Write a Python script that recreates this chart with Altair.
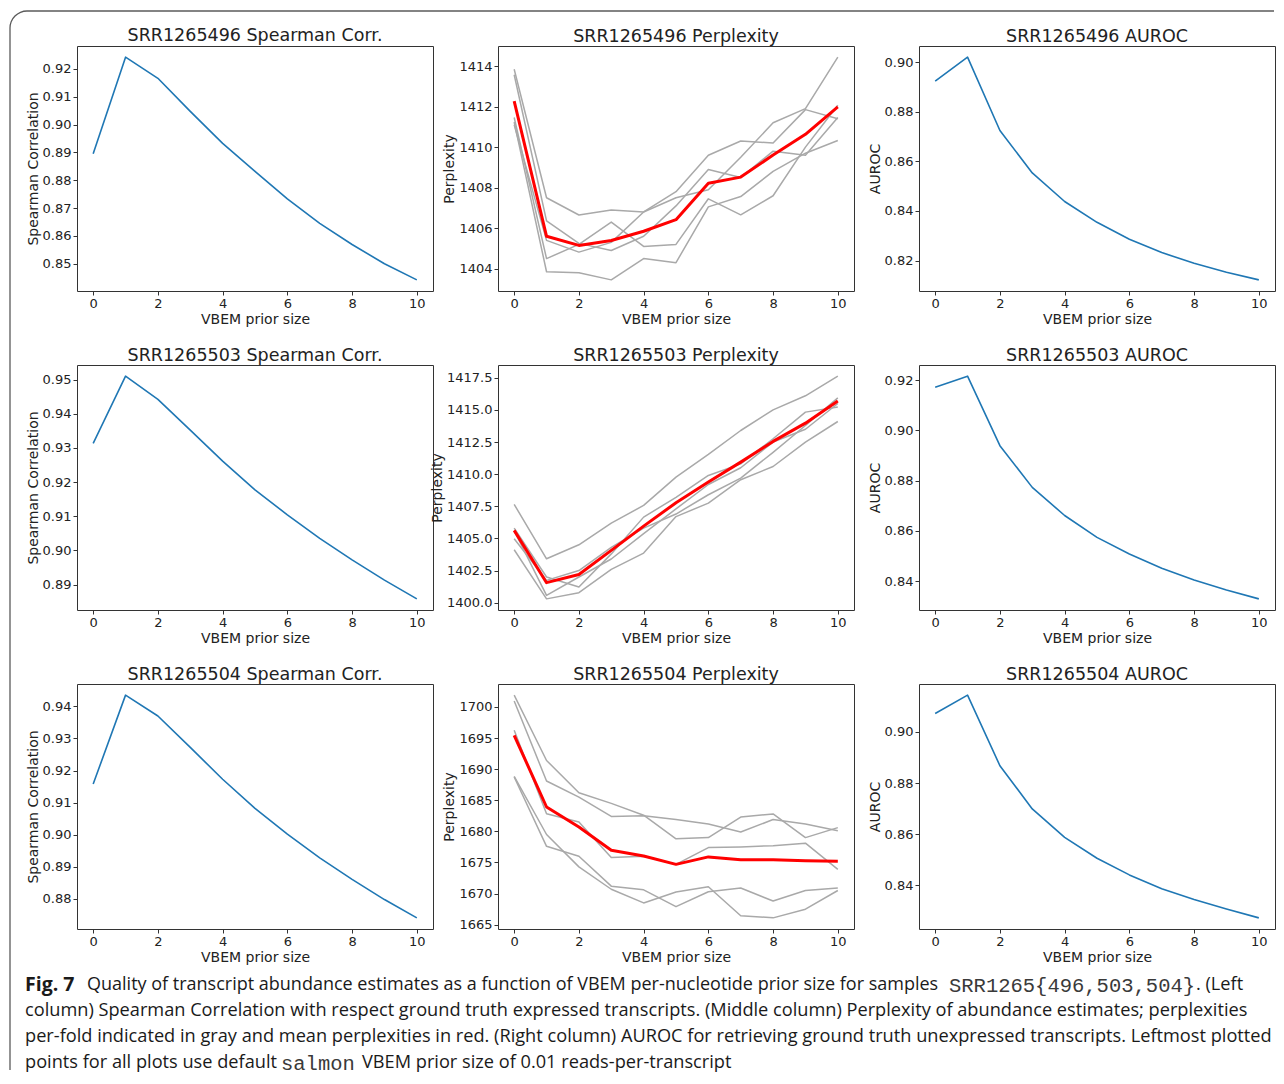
import altair as alt
import pandas as pd

# ---------------- data ----------------
prior_size = [0, 1, 2, 3, 4, 5, 6, 7, 8, 9, 10]
x_ticks = [0, 2, 4, 6, 8, 10]
samples = ["SRR1265496", "SRR1265503", "SRR1265504"]

spearman_496 = [0.8895, 0.9242, 0.9166, 0.9047, 0.8932, 0.8832, 0.8733, 0.8645, 0.8569, 0.8500, 0.8442]
spearman_503 = [0.9313, 0.9510, 0.9442, 0.9352, 0.9261, 0.9177, 0.9104, 0.9035, 0.8972, 0.8913, 0.8858]
spearman_504 = [0.9158, 0.9435, 0.9370, 0.9272, 0.9173, 0.9082, 0.9002, 0.8928, 0.8861, 0.8798, 0.8741]

auroc_496 = [0.8923, 0.9020, 0.8724, 0.8553, 0.8438, 0.8354, 0.8286, 0.8232, 0.8189, 0.8153, 0.8122]
auroc_503 = [0.9172, 0.9216, 0.8939, 0.8773, 0.8661, 0.8574, 0.8508, 0.8451, 0.8404, 0.8364, 0.8329]
auroc_504 = [0.9072, 0.9144, 0.8868, 0.8699, 0.8588, 0.8506, 0.8441, 0.8387, 0.8345, 0.8308, 0.8273]

perp_496_mean = [1412.27, 1405.60, 1405.15, 1405.39, 1405.85, 1406.42, 1408.22, 1408.52, 1409.61, 1410.63, 1411.99]
perp_496_fold1 = [1413.84, 1407.50, 1406.65, 1406.90, 1406.80, 1407.80, 1409.60, 1410.30, 1410.20, 1411.85, 1411.40]
perp_496_fold2 = [1413.57, 1406.36, 1405.25, 1404.90, 1405.60, 1407.10, 1408.90, 1408.50, 1409.80, 1409.60, 1411.46]
perp_496_fold3 = [1411.46, 1404.50, 1405.20, 1406.30, 1405.10, 1405.20, 1407.45, 1406.66, 1407.60, 1410.00, 1412.07]
perp_496_fold4 = [1411.24, 1403.85, 1403.80, 1403.45, 1404.50, 1404.30, 1407.05, 1407.56, 1408.80, 1409.70, 1410.33]
perp_496_fold5 = [1411.10, 1405.40, 1404.82, 1405.30, 1406.80, 1407.50, 1407.90, 1409.50, 1411.20, 1411.90, 1414.44]

perp_503_mean = [1405.63, 1401.56, 1402.20, 1404.07, 1405.96, 1407.78, 1409.39, 1410.94, 1412.55, 1413.97, 1415.69]
perp_503_fold1 = [1407.65, 1403.42, 1404.51, 1406.20, 1407.57, 1409.77, 1411.54, 1413.40, 1415.00, 1416.10, 1417.63]
perp_503_fold2 = [1405.80, 1402.00, 1401.22, 1403.80, 1406.66, 1408.20, 1409.90, 1410.80, 1412.76, 1414.83, 1415.22]
perp_503_fold3 = [1404.98, 1401.74, 1402.50, 1404.30, 1405.80, 1406.90, 1408.40, 1409.70, 1411.70, 1413.79, 1415.94]
perp_503_fold4 = [1405.60, 1400.57, 1402.00, 1403.40, 1405.37, 1407.30, 1409.20, 1410.50, 1412.50, 1413.50, 1415.50]
perp_503_fold5 = [1404.12, 1400.30, 1400.78, 1402.60, 1403.86, 1406.70, 1407.75, 1409.57, 1410.60, 1412.50, 1414.10]

perp_504_mean = [1695.44, 1683.92, 1680.70, 1676.96, 1676.04, 1674.70, 1675.90, 1675.45, 1675.45, 1675.30, 1675.19]
perp_504_fold1 = [1701.90, 1691.40, 1686.20, 1684.50, 1682.60, 1678.80, 1679.00, 1682.30, 1682.80, 1679.00, 1680.60]
perp_504_fold2 = [1700.96, 1688.10, 1685.50, 1682.40, 1682.50, 1681.90, 1681.20, 1679.90, 1681.90, 1681.20, 1680.10]
perp_504_fold3 = [1696.25, 1682.85, 1681.50, 1675.80, 1676.00, 1674.70, 1677.40, 1677.50, 1677.70, 1678.10, 1673.90]
perp_504_fold4 = [1688.85, 1679.50, 1674.30, 1670.70, 1668.50, 1670.25, 1671.10, 1666.45, 1666.10, 1667.50, 1670.50]
perp_504_fold5 = [1688.75, 1677.60, 1676.00, 1671.20, 1670.60, 1667.90, 1670.30, 1670.90, 1668.80, 1670.50, 1670.90]

# y tick labels of each panel
spearman_ticks_496 = [0.84, 0.85, 0.86, 0.87, 0.88, 0.89, 0.90, 0.91, 0.92]
spearman_ticks_503 = [0.89, 0.90, 0.91, 0.92, 0.93, 0.94, 0.95]
spearman_ticks_504 = [0.88, 0.89, 0.90, 0.91, 0.92, 0.93, 0.94]
perp_ticks_496 = [1404, 1406, 1408, 1410, 1412, 1414]
perp_ticks_503 = [1400.0, 1402.5, 1405.0, 1407.5, 1410.0, 1412.5, 1415.0, 1417.5]
perp_ticks_504 = [1665, 1670, 1675, 1680, 1685, 1690, 1695, 1700]
auroc_ticks_496 = [0.82, 0.84, 0.86, 0.88, 0.90]
auroc_ticks_503 = [0.84, 0.86, 0.88, 0.90, 0.92]
auroc_ticks_504 = [0.84, 0.86, 0.88, 0.90]

caption_line1 = ["Fig. 7",
                 "Quality of transcript abundance estimates as a function of VBEM per-nucleotide prior size for samples",
                 "SRR1265{496,503,504}",
                 ". (Left"]
caption_line2 = "column) Spearman Correlation with respect ground truth expressed transcripts. (Middle column) Perplexity of abundance estimates; perplexities"
caption_line3 = "per-fold indicated in gray and mean perplexities in red. (Right column) AUROC for retrieving ground truth unexpressed transcripts. Leftmost plotted"
caption_line4 = ["points for all plots use default", "salmon", "VBEM prior size of 0.01 reads-per-transcript"]

# ---------------- styling ----------------
W, H = 356, 245
BLUE = "#1f77b4"
GRAY = "#a9a9a9"
RED = "#ff0000"
TXT = "#222222"
FONT = "DejaVu Sans"
TITLE_SIZE = 17.5
FRAME = "#5a5a5a"


def padded(vals):
    lo, hi = min(vals), max(vals)
    m = 0.05 * (hi - lo)
    return [lo - m, hi + m]


def x_enc():
    return alt.X("x:Q",
                 scale=alt.Scale(domain=[-0.5, 10.5], nice=False, zero=False),
                 axis=alt.Axis(values=x_ticks, format="d", title="VBEM prior size"))


def y_enc(dom, ticks, fmt, title):
    return alt.Y("y:Q",
                 scale=alt.Scale(domain=dom, nice=False, zero=False),
                 axis=alt.Axis(values=ticks, format=fmt, title=title))


def metric_line(ytitle, values, ticks):
    df = pd.DataFrame({"x": prior_size, "y": values})
    return alt.Chart(df).mark_line(
        color=BLUE, strokeWidth=1.6, strokeJoin="round"
    ).encode(x=x_enc(), y=y_enc(padded(values), ticks, ".2f", ytitle))


def metric_panel(title, ytitle, values, ticks):
    return alt.layer(metric_line(ytitle, values, ticks), title=title).properties(width=W, height=H)


def perp_panel(title, folds, mean, ticks, fmt):
    rows = []
    for i, f in enumerate(folds):
        for xv, yv in zip(prior_size, f):
            rows.append({"x": xv, "y": yv, "fold": i})
    dff = pd.DataFrame(rows)
    dfm = pd.DataFrame({"x": prior_size, "y": mean})
    allv = [v for f in folds for v in f] + list(mean)
    dom = padded(allv)
    gray = alt.Chart(dff).mark_line(color=GRAY, strokeWidth=1.5, strokeJoin="round").encode(
        x=x_enc(), y=y_enc(dom, ticks, fmt, "Perplexity"), detail="fold:N")
    red = alt.Chart(dfm).mark_line(color=RED, strokeWidth=3, strokeJoin="round").encode(
        x=x_enc(), y=y_enc(dom, ticks, fmt, "Perplexity"))
    return alt.layer(gray, red, title=title).properties(width=W, height=H)


# ---------------- caption and figure frame (drawn from the first panel, outside its plot area) ----------------
dummy = pd.DataFrame({"k": [0]})
REG = "Open Sans"
MONO = "Liberation Mono"
CFS = 18.2
MFS = 20.5


def seg(text, x, y, font=REG, size=CFS, weight="normal", color="#1a1a1a", align="left", baseline="middle"):
    return alt.Chart(dummy).mark_text(
        align=align, baseline=baseline, font=font, fontSize=size, fontWeight=weight, color=color
    ).encode(x=alt.value(x), y=alt.value(y), text=alt.value(text))


L1, L2, L3, L4 = 939, 965, 991, 1017
first_panel = alt.layer(
    metric_line("Spearman Correlation", spearman_496, spearman_ticks_496),
    # panel title (as a text mark so the frame below does not move it)
    seg(f"{samples[0]} Spearman Corr.", W / 2, -1, font=FONT, size=TITLE_SIZE, color=TXT,
        align="center", baseline="bottom"),
    # figure frame: top edge, left edge, rounded top-left corner
    alt.Chart(dummy).mark_rule(color=FRAME, strokeWidth=1.3).encode(
        x=alt.value(-50), x2=alt.value(1197), y=alt.value(-35)),
    alt.Chart(dummy).mark_rule(color=FRAME, strokeWidth=1.3).encode(
        x=alt.value(-67), y=alt.value(-18), y2=alt.value(1024)),
    alt.Chart(dummy).mark_arc(color=FRAME).encode(
        x=alt.value(-50), y=alt.value(-18), radius=alt.value(17.65), radius2=alt.value(16.35),
        theta=alt.value(4.7124), theta2=alt.value(6.2832)),
    # caption
    seg(caption_line1[0], -52, L1, size=19.5, weight="bold"),
    seg(caption_line1[1], 10, L1, size=18.0),
    seg(caption_line1[2], 872, L1 + 1, font=MONO, size=MFS, color="#3a3a3a"),
    seg(caption_line1[3], 1119, L1),
    seg(caption_line2, -52, L2),
    seg(caption_line3, -52, L3),
    seg(caption_line4[0], -52, L4),
    seg(caption_line4[1], 204, L4 + 1, font=MONO, size=MFS, color="#3a3a3a"),
    seg(caption_line4[2], 285, L4),
).properties(width=W, height=H)

panels = [
    first_panel,
    perp_panel(f"{samples[0]} Perplexity",
               [perp_496_fold1, perp_496_fold2, perp_496_fold3, perp_496_fold4, perp_496_fold5],
               perp_496_mean, perp_ticks_496, "d"),
    metric_panel(f"{samples[0]} AUROC", "AUROC", auroc_496, auroc_ticks_496),
    metric_panel(f"{samples[1]} Spearman Corr.", "Spearman Correlation", spearman_503, spearman_ticks_503),
    perp_panel(f"{samples[1]} Perplexity",
               [perp_503_fold1, perp_503_fold2, perp_503_fold3, perp_503_fold4, perp_503_fold5],
               perp_503_mean, perp_ticks_503, ".1f"),
    metric_panel(f"{samples[1]} AUROC", "AUROC", auroc_503, auroc_ticks_503),
    metric_panel(f"{samples[2]} Spearman Corr.", "Spearman Correlation", spearman_504, spearman_ticks_504),
    perp_panel(f"{samples[2]} Perplexity",
               [perp_504_fold1, perp_504_fold2, perp_504_fold3, perp_504_fold4, perp_504_fold5],
               perp_504_mean, perp_ticks_504, "d"),
    metric_panel(f"{samples[2]} AUROC", "AUROC", auroc_504, auroc_ticks_504),
]

chart = alt.concat(*panels, columns=3, spacing={"row": 74, "column": 65}, bounds="flush").properties(
    padding={"left": 0, "top": 1, "right": 0, "bottom": 0}
).configure_view(
    stroke="#333333", strokeWidth=1
).configure_axis(
    grid=False, domain=False, tickSize=4, tickColor="#333333", tickWidth=1,
    labelFont=FONT, labelFontSize=13, labelColor=TXT, labelPadding=2,
    titleFont=FONT, titleFontSize=14, titleFontWeight="normal", titleColor=TXT, titlePadding=2,
).configure_title(
    font=FONT, fontSize=TITLE_SIZE, fontWeight="normal", color=TXT, offset=1, anchor="middle"
)

chart.save("out.html", embed_options={"renderer": "svg", "actions": False})
